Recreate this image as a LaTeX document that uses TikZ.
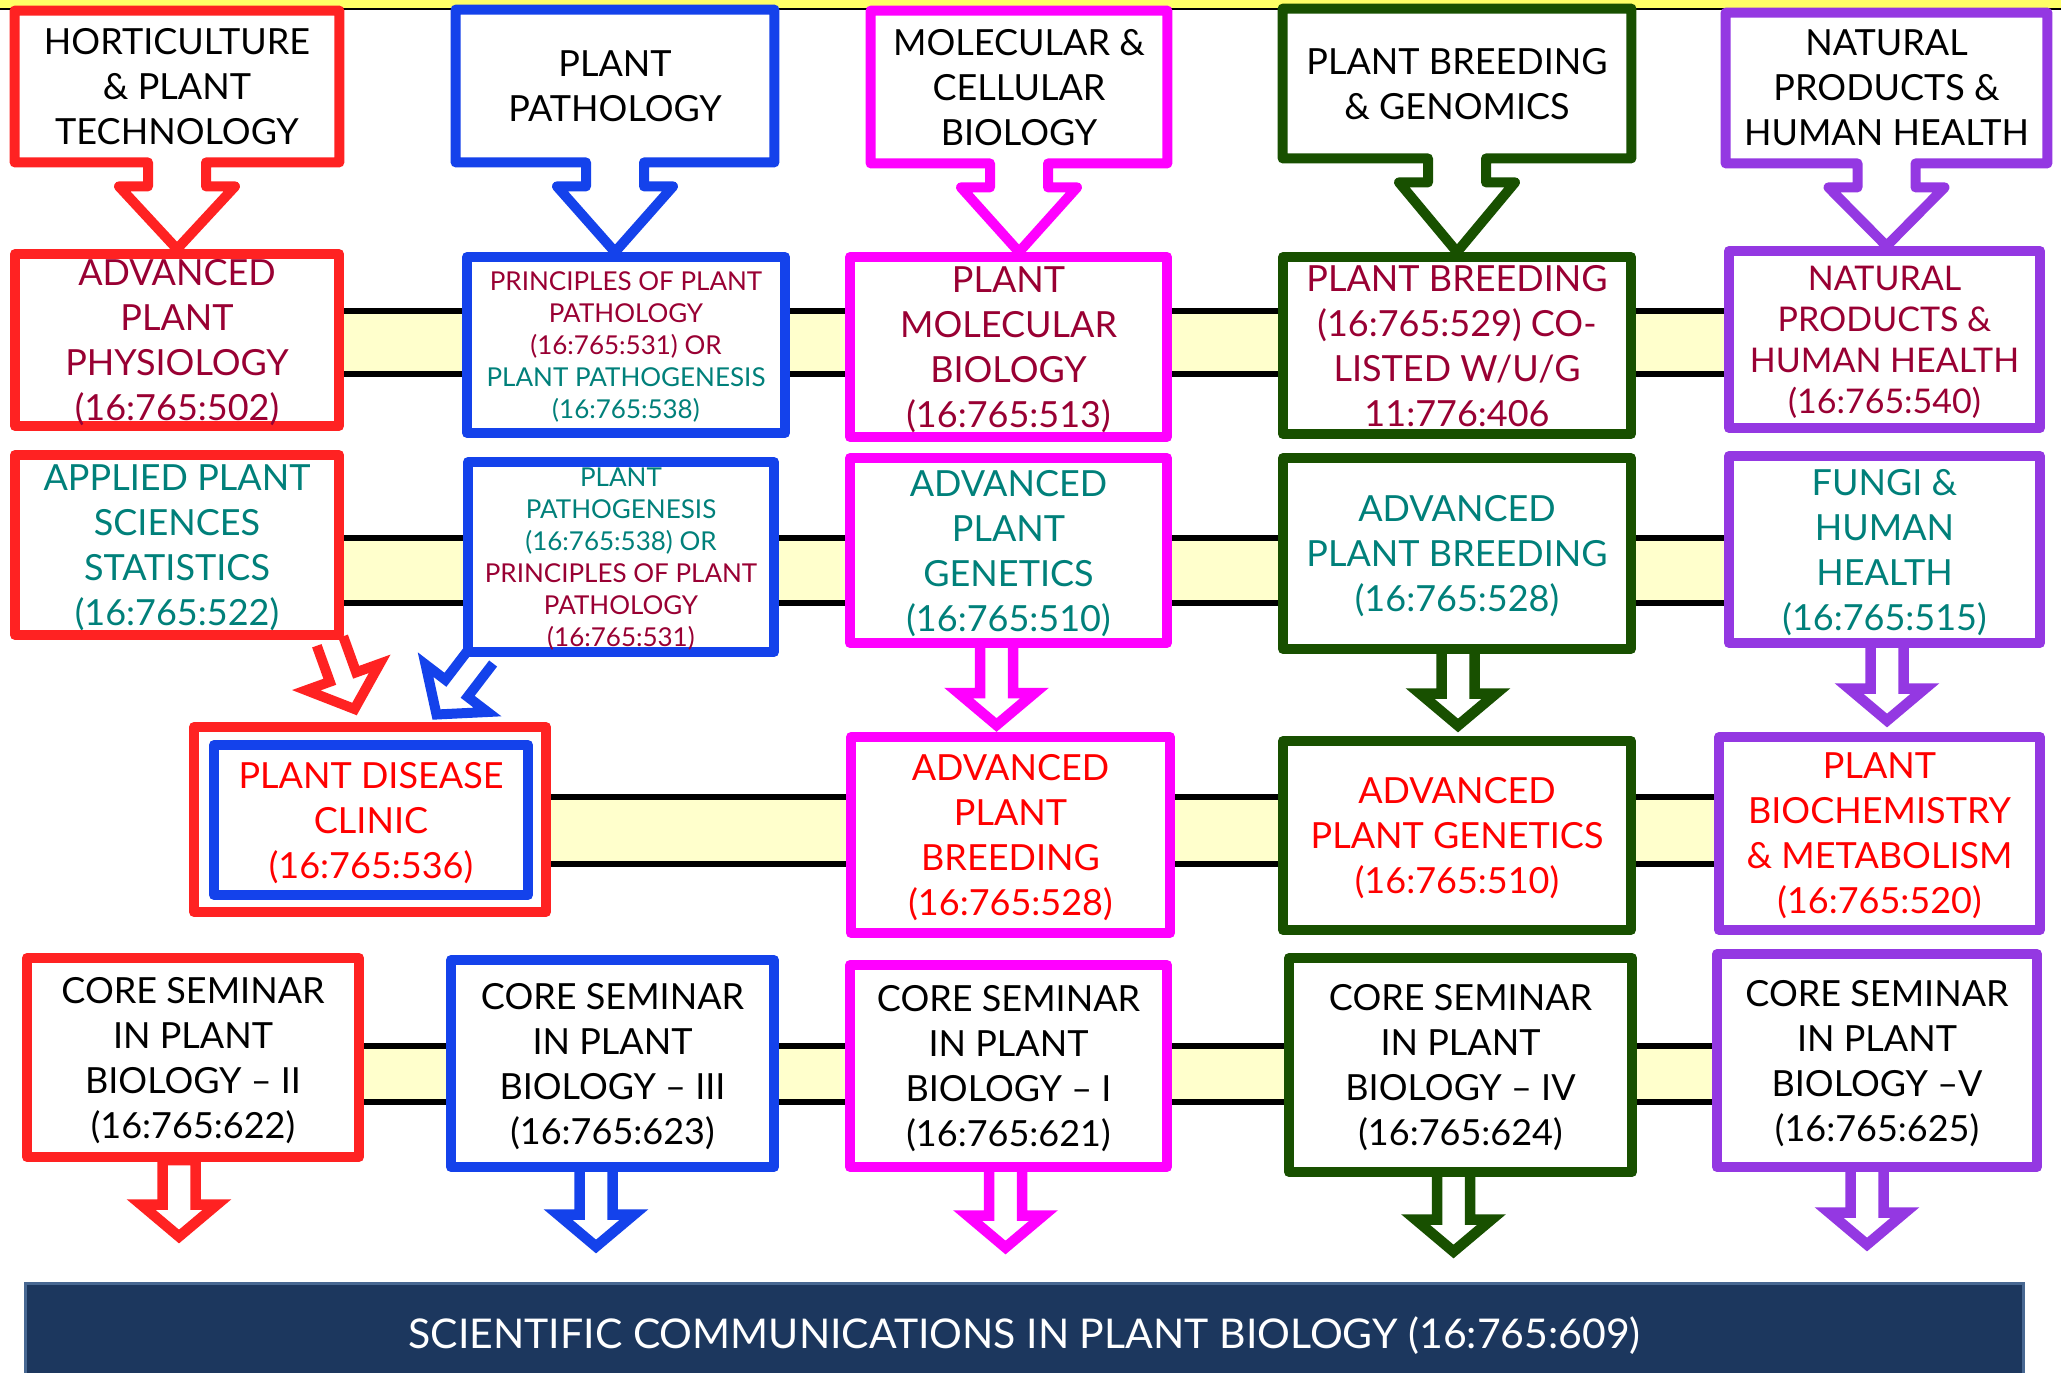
\documentclass[tikz,border=0pt]{standalone}
\usepackage{fontspec}
\setmainfont{Lato}
\usetikzlibrary{calc}
\definecolor{cRed}{RGB}{255,34,34}
\definecolor{cBlue}{RGB}{20,66,235}
\definecolor{cMag}{RGB}{255,0,255}
\definecolor{cGreen}{RGB}{24,80,0}
\definecolor{cPurp}{RGB}{148,56,226}
\definecolor{tMar}{RGB}{153,0,51}
\definecolor{tTeal}{RGB}{0,128,122}
\definecolor{tRed}{RGB}{255,0,0}
\definecolor{bandY}{RGB}{255,255,204}
\definecolor{navy}{RGB}{28,55,94}
\definecolor{navyEdge}{RGB}{72,104,146}
\definecolor{topY}{RGB}{255,255,102}
\pgfdeclarelayer{back}
\pgfdeclarelayer{bg}
\pgfdeclarelayer{arr}
\pgfsetlayers{back,bg,arr,main}
\tikzset{
 box/.style={draw=#1, line width=5pt, fill=white, inner sep=0pt, align=center, line join=round, text depth=0pt},
 cbox/.style={fill=white, inner sep=0pt, align=center, text depth=0pt},
 sz/.style 2 args={minimum width=#1*0.5pt, minimum height=#2*0.5pt},
 big/.style={font=\fontsize{18}{22.5}\selectfont},
 mid/.style={font=\fontsize{17}{20.5}\selectfont},
 small/.style={font=\fontsize{13}{16}\selectfont},
 callline/.style={draw=#1, line width=5pt, line join=round},
 thinarr/.style={draw=#1, fill=white, line width=5.25pt, line join=miter},
 diagarr/.style={draw=#1, fill=white, line width=5pt, line join=miter},
 bandline/.style={draw=black, line width=3pt},
}
% open block arrow: style, start, tip, stem half width, head half width, head length
\newcommand{\blockarr}[6]{%
  \coordinate (bas) at ($(#3)!#6!(#2)$);
  \draw[#1] ($(#2)!#4!90:(#3)$) -- ($(bas)!#4!90:(#3)$) -- ($(bas)!#5!90:(#3)$) -- (#3)
    -- ($(bas)!#5!-90:(#3)$) -- ($(bas)!#4!-90:(#3)$) -- ($(#2)!#4!-90:(#3)$);
}
% closed block arrow (stem top drawn)
\newcommand{\blockarrc}[6]{%
  \coordinate (bas) at ($(#3)!#6!(#2)$);
  \draw[#1] ($(#2)!#4!90:(#3)$) -- ($(bas)!#4!90:(#3)$) -- ($(bas)!#5!90:(#3)$) -- (#3)
    -- ($(bas)!#5!-90:(#3)$) -- ($(bas)!#4!-90:(#3)$) -- ($(#2)!#4!-90:(#3)$) -- cycle;
}
\newcommand{\callout}[3]{%
  \draw[callline=#1] (#2.south west) -- (#2.north west) -- (#2.north east) -- (#2.south east)
   -- ($(#2.south)+(29,0)$) -- ($(#2.south)+(29,24)$) -- ($(#2.south)+(58,24)$)
   -- (#2.south |- #3.north)
   -- ($(#2.south)+(-58,24)$) -- ($(#2.south)+(-29,24)$) -- ($(#2.south)+(-29,0)$) -- cycle;
}
\begin{document}
\begin{tikzpicture}[x=0.5pt,y=-0.5pt]
\useasboundingbox (0,0) rectangle (2061,1372);
\begin{pgfonlayer}{back}
\fill[white] (0,0) rectangle (2061,1372);
\fill[topY] (0,0) rectangle (2061,8);
\draw[black, line width=1pt] (0,9) -- (2061,9);
\end{pgfonlayer}

% Row 1: department callouts
\node[cbox, sz={324}{151}, big] (h1) at (177,86.5) {HORTICULTURE\\\& PLANT\\TECHNOLOGY};
\node[cbox, sz={318}{152}, big] (h2) at (615,86) {PLANT\\PATHOLOGY};
\node[cbox, sz={296}{152}, big] (h3) at (1019,87) {MOLECULAR \&\\CELLULAR\\BIOLOGY};
\node[cbox, sz={348}{149}, big] (h4) at (1457,83.5) {PLANT BREEDING\\\& GENOMICS};
\node[cbox, sz={321}{150}, big] (h5) at (1886.5,88) {NATURAL\\PRODUCTS \&\\HUMAN HEALTH};

% Row 2
\node[box=cRed, sz={324}{172}, big, text=tMar] (a1) at (177,340) {ADVANCED\\PLANT\\PHYSIOLOGY\\(16:765:502)};
\node[box=cBlue, sz={318}{176}, small] (a2) at (626,345) {\textcolor{tMar}{PRINCIPLES OF PLANT}\\\textcolor{tMar}{PATHOLOGY}\\\textcolor{tMar}{(16:765:531) OR}\\\textcolor{tTeal}{PLANT PATHOGENESIS}\\\textcolor{tTeal}{(16:765:538)}};
\node[box=cMag, sz={317}{180}, big, text=tMar] (a3) at (1008.5,347) {PLANT\\MOLECULAR\\BIOLOGY\\(16:765:513)};
\node[box=cGreen, sz={348}{177}, big, text=tMar] (a4) at (1457,345.5) {PLANT BREEDING\\(16:765:529) CO-\\LISTED W/U/G\\11:776:406};
\node[box=cPurp, sz={311}{177}, mid, text=tMar] (a5) at (1884.5,339.5) {NATURAL\\PRODUCTS \&\\HUMAN HEALTH\\(16:765:540)};

% Row 3
\node[box=cRed, sz={324}{180}, big, text=tTeal] (b1) at (177,545) {APPLIED PLANT\\SCIENCES\\STATISTICS\\(16:765:522)};
\node[box=cBlue, sz={306}{190}, small] (b2) at (621,557) {\textcolor{tTeal}{PLANT}\\\textcolor{tTeal}{PATHOGENESIS}\\\textcolor{tTeal}{(16:765:538) OR}\\\textcolor{tMar}{PRINCIPLES OF PLANT}\\\textcolor{tMar}{PATHOLOGY}\\\textcolor{tMar}{(16:765:531)}};
\node[box=cMag, sz={317}{185}, big, text=tTeal] (b3) at (1008.5,550.5) {ADVANCED\\PLANT\\GENETICS\\(16:765:510)};
\node[box=cGreen, sz={348}{191}, big, text=tTeal] (b4) at (1457,553.5) {ADVANCED\\PLANT BREEDING\\(16:765:528)};
\node[box=cPurp, sz={311}{187}, big, text=tTeal] (b5) at (1884.5,549.5) {FUNGI \&\\HUMAN\\HEALTH\\(16:765:515)};

% Row 4
\node[box=cRed, sz={352}{185}] (c1) at (370,819.5) {};
\node[box=cBlue, sz={314}{150}, big, text=tRed] (c1in) at (371,820) {PLANT DISEASE\\CLINIC\\(16:765:536)};
\node[box=cMag, sz={319}{196}, big, text=tRed] (c3) at (1010.5,835) {ADVANCED\\PLANT\\BREEDING\\(16:765:528)};
\node[box=cGreen, sz={348}{189}, big, text=tRed] (c4) at (1457,835.5) {ADVANCED\\PLANT GENETICS\\(16:765:510)};
\node[box=cPurp, sz={321}{193}, big, text=tRed] (c5) at (1879.5,833.5) {PLANT\\BIOCHEMISTRY\\\& METABOLISM\\(16:765:520)};

% Row 5
\node[box=cRed, sz={332}{199}, big] (d1) at (193,1057.5) {CORE SEMINAR\\IN PLANT\\BIOLOGY – II\\(16:765:622)};
\node[box=cBlue, sz={323}{207}, big] (d2) at (612.5,1063.5) {CORE SEMINAR\\IN PLANT\\BIOLOGY – III\\(16:765:623)};
\node[box=cMag, sz={317}{202}, big] (d3) at (1008.5,1066) {CORE SEMINAR\\IN PLANT\\BIOLOGY – I\\(16:765:621)};
\node[box=cGreen, sz={343}{214}, big] (d4) at (1460.5,1065) {CORE SEMINAR\\IN PLANT\\BIOLOGY – IV\\(16:765:624)};
\node[box=cPurp, sz={320}{213}, big] (d5) at (1877,1060.5) {CORE SEMINAR\\IN PLANT\\BIOLOGY –V\\(16:765:625)};

% Bottom bar
\node[fill=navy, draw=navyEdge, line width=1.5pt, sz={1998}{100}, inner sep=0pt, text depth=0pt, text=white, font=\fontsize{20.5}{24}\selectfont] (scb) at (1024.5,1333) {SCIENTIFIC COMMUNICATIONS IN PLANT BIOLOGY (16:765:609)};

% Bands
\coordinate (r2t) at (0,311); \coordinate (r2b) at (0,374);
\coordinate (r3t) at (0,538); \coordinate (r3b) at (0,603);
\coordinate (r4t) at (0,797); \coordinate (r4b) at (0,864);
\coordinate (r5t) at (0,1046); \coordinate (r5b) at (0,1102);
\begin{pgfonlayer}{bg}
 \fill[bandY] (a1.east |- r2t) rectangle (a5.west |- r2b);
 \draw[bandline] (a1.east |- r2t) -- (a5.west |- r2t);
 \draw[bandline] (a1.east |- r2b) -- (a5.west |- r2b);
 \fill[bandY] (b1.east |- r3t) rectangle (b5.west |- r3b);
 \draw[bandline] (b1.east |- r3t) -- (b5.west |- r3t);
 \draw[bandline] (b1.east |- r3b) -- (b5.west |- r3b);
 \fill[bandY] (c1.east |- r4t) rectangle (c5.west |- r4b);
 \draw[bandline] (c1.east |- r4t) -- (c5.west |- r4t);
 \draw[bandline] (c1.east |- r4b) -- (c5.west |- r4b);
 \fill[bandY] (d1.east |- r5t) rectangle (d5.west |- r5b);
 \draw[bandline] (d1.east |- r5t) -- (d5.west |- r5t);
 \draw[bandline] (d1.east |- r5b) -- (d5.west |- r5b);
\end{pgfonlayer}

% Callout arrows
\callout{cRed}{h1}{a1}
\callout{cBlue}{h2}{a2}
\callout{cMag}{h3}{a3}
\callout{cGreen}{h4}{a4}
\callout{cPurp}{h5}{a5}

% Block arrows (drawn beneath the boxes)
\coordinate (m34s) at ($(b3.south)+(-12,0)$); \coordinate (m34t) at ($(m34s)+(0,77)$);
\coordinate (g34s) at ($(b4.south)+(1,0)$);   \coordinate (g34t) at ($(g34s)+(0,71.5)$);
\coordinate (p34s) at ($(b5.south)+(2.5,0)$); \coordinate (p34t) at ($(p34s)+(0,72.5)$);
\coordinate (rds) at ($(b1.south east)+(-14,1)$);
\coordinate (rdt) at ($(c1.north)+(-15.5,-13)$);
\coordinate (bds) at ($(b2.south west)+(19,-2)$);
\coordinate (bdt) at ($(c1.north)+(66.5,-7.5)$);
\coordinate (bbs) at ($(d2.south)+(-16.5,0)$); \coordinate (bbt) at ($(bbs)+(0,74.5)$);
\coordinate (mbs) at ($(d3.south)+(-3,0)$);    \coordinate (mbt) at ($(mbs)+(0,75.5)$);
\coordinate (gbs) at ($(d4.south)+(-7,0)$);    \coordinate (gbt) at ($(gbs)+(0,74.5)$);
\coordinate (pbs) at ($(d5.south)+(-10,0)$);   \coordinate (pbt) at ($(pbs)+(0,72.5)$);
\begin{pgfonlayer}{arr}
 \blockarr{thinarr=cMag}{m34s}{m34t}{8.25pt}{19pt}{16pt}
 \blockarr{thinarr=cGreen}{g34s}{g34t}{8.25pt}{19pt}{16pt}
 \blockarr{thinarr=cPurp}{p34s}{p34t}{8.25pt}{19pt}{16pt}
 \blockarr{diagarr=cRed}{rds}{rdt}{7pt}{19.5pt}{17pt}
 \blockarr{diagarr=cBlue}{bds}{bdt}{7pt}{19.5pt}{16.5pt}
 \blockarr{thinarr=cBlue}{bbs}{bbt}{8.25pt}{19pt}{16pt}
 \blockarr{thinarr=cMag}{mbs}{mbt}{8.25pt}{19pt}{16pt}
 \blockarr{thinarr=cGreen}{gbs}{gbt}{8.25pt}{19pt}{16pt}
 \blockarr{thinarr=cPurp}{pbs}{pbt}{8.25pt}{19pt}{16pt}
\end{pgfonlayer}

% Red bottom arrow cuts through its box border
\coordinate (rbs) at ($(d1.south)+(-14,-2)$);   \coordinate (rbt) at ($(rbs)+(0,76.5)$);
\blockarrc{thinarr=cRed}{rbs}{rbt}{8.25pt}{19pt}{16pt}
\end{tikzpicture}
\end{document}
